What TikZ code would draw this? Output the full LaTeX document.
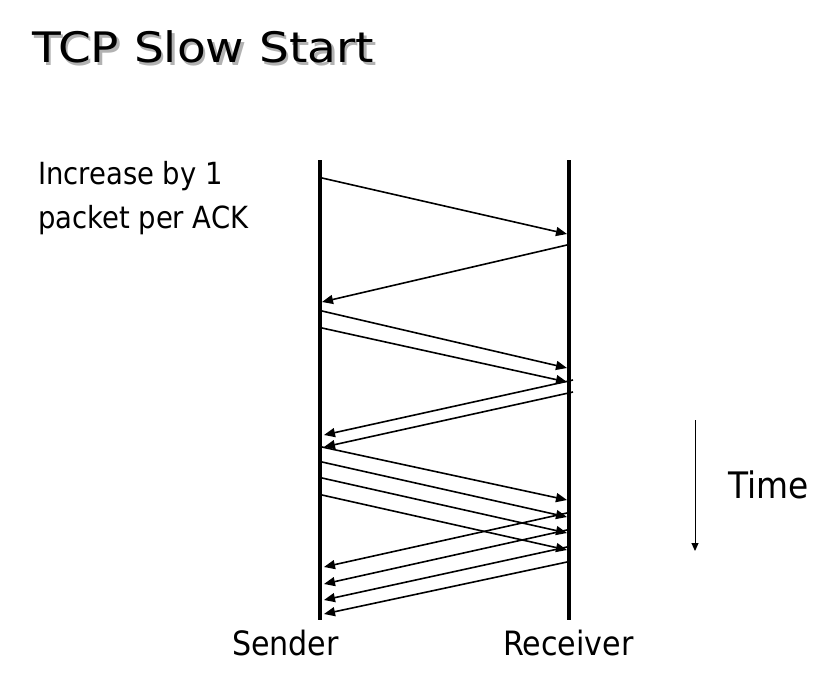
\documentclass[tikz,border=0pt]{standalone}
\usepackage{fontspec}
\setmainfont{DejaVu Sans}[FakeStretch=0.9]
\newfontfamily\titlefont{DejaVu Sans}[FakeStretch=1.12]
\usetikzlibrary{arrows.meta}
\tikzset{
  timeline/.style={line width=4pt},
  msg/.style={line width=1.6pt,-{Triangle[length=11pt,width=9pt]}},
  timearrow/.style={line width=1pt,-{Triangle[length=8pt,width=7pt]}},
  lbl/.style={anchor=base west,inner sep=0pt,outer sep=0pt},
}
\newcommand{\shadowtext}[1]{\makebox[0pt][l]{\hspace{2.5pt}\raisebox{-2.5pt}{\textcolor{black!30}{#1}}}#1}
\begin{document}
\begin{tikzpicture}[x=1pt,y=-1pt]
\useasboundingbox[fill=white] (0,0) rectangle (832,690);
% title with shadow
\node[lbl] (title) at (32,63) {\titlefont\fontsize{42}{50}\selectfont\shadowtext{TCP Slow Start}};
% side text
\node[lbl] (inc1) at (38,184) {\fontsize{30.5}{36}\selectfont Increase by 1};
\node[lbl] (inc2) at (38,228) {\fontsize{30.5}{36}\selectfont packet per ACK};
% time lines
\coordinate (stop) at (320,160);
\coordinate (sbot) at (320,620);
\coordinate (rtop) at (569,160);
\coordinate (rbot) at (569,620);
\draw[timeline] (stop) -- (sbot);
\draw[timeline] (rtop) -- (rbot);
% labels
\node[lbl] (sender) at (232,655) {\fontsize{33.5}{40}\selectfont Sender};
\node[lbl] (receiver) at (503,655) {\fontsize{33.5}{40}\selectfont Receiver};
% time arrow
\coordinate (ttop) at (695,420);
\coordinate (tbot) at (695,551);
\draw[timearrow] (ttop) -- (tbot);
\node[lbl] (time) at (728,498) {\fontsize{36.5}{42}\selectfont Time};
% round 1
\coordinate (d1s) at (322,178); \coordinate (d1e) at (567,234);
\coordinate (a1s) at (567,245); \coordinate (a1e) at (322,302);
\draw[msg] (d1s) -- (d1e);
\draw[msg] (a1s) -- (a1e);
% round 2
\coordinate (d2s) at (322,311); \coordinate (d2e) at (567,368);
\coordinate (d3s) at (322,328); \coordinate (d3e) at (567,382);
\draw[msg] (d2s) -- (d2e);
\draw[msg] (d3s) -- (d3e);
\coordinate (a2s) at (573,380); \coordinate (a2e) at (324,435);
\coordinate (a3s) at (573,392); \coordinate (a3e) at (324,447);
\draw[msg] (a2s) -- (a2e);
\draw[msg] (a3s) -- (a3e);
% round 3
\coordinate (d4s) at (322,447); \coordinate (d4e) at (567,500);
\coordinate (d5s) at (322,462); \coordinate (d5e) at (567,517);
\coordinate (d6s) at (322,478); \coordinate (d6e) at (567,533);
\coordinate (d7s) at (322,495); \coordinate (d7e) at (567,550);
\draw[msg] (d4s) -- (d4e);
\draw[msg] (d5s) -- (d5e);
\draw[msg] (d6s) -- (d6e);
\draw[msg] (d7s) -- (d7e);
\coordinate (a4s) at (567,513); \coordinate (a4e) at (324,567);
\coordinate (a5s) at (567,530); \coordinate (a5e) at (324,584);
\coordinate (a6s) at (567,547); \coordinate (a6e) at (324,600);
\coordinate (a7s) at (567,562); \coordinate (a7e) at (324,614);
\draw[msg] (a4s) -- (a4e);
\draw[msg] (a5s) -- (a5e);
\draw[msg] (a6s) -- (a6e);
\draw[msg] (a7s) -- (a7e);
\end{tikzpicture}
\end{document}
